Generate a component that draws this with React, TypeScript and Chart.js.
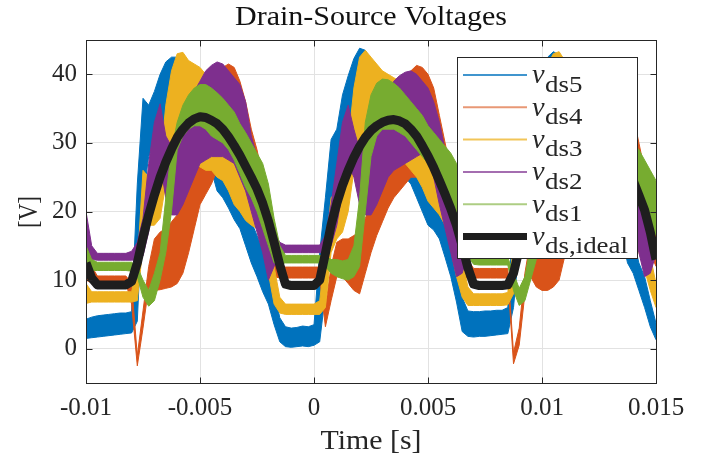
import { useEffect, useRef } from 'react';
import { Chart, registerables } from 'chart.js';

Chart.register(...registerables);

// ---- data -------------------------------------------------------------
const time = [
  -0.01, -0.00975, -0.0095, -0.00925, -0.009, -0.00875, -0.0085, -0.00825, -0.008, -0.00775,
  -0.0075, -0.00725, -0.007, -0.00675, -0.0065, -0.00625, -0.006, -0.00575, -0.0055, -0.00525,
  -0.005, -0.00475, -0.0045, -0.00425, -0.004, -0.00375, -0.0035, -0.00325, -0.003, -0.00275,
  -0.0025, -0.00225, -0.002, -0.00175, -0.0015, -0.00125, -0.001, -0.00075, -0.0005, -0.00025,
  0, 0.00025, 0.0005, 0.00075, 0.001, 0.00125, 0.0015, 0.00175, 0.002, 0.00225,
  0.0025, 0.00275, 0.003, 0.00325, 0.0035, 0.00375, 0.004, 0.00425, 0.0045, 0.00475,
  0.005, 0.00525, 0.0055, 0.00575, 0.006, 0.00625, 0.0065, 0.00675, 0.007, 0.00725,
  0.0075, 0.00775, 0.008, 0.00825, 0.0085, 0.00875, 0.009, 0.00925, 0.0095, 0.00975,
  0.01, 0.01025, 0.0105, 0.01075, 0.011, 0.01125, 0.0115, 0.01175, 0.012, 0.01225,
  0.0125, 0.01275, 0.013, 0.01325, 0.0135, 0.01375, 0.014, 0.01425, 0.0145, 0.01475,
  0.015,
];

// v_ds5 (blue) noise band
const vds5Lo = [
  1.5, 1.6, 1.7, 1.8, 1.9, 2.0, 2.1, 2.2, 2.3, 4,
  22, 28, 30, 31, 32, 32, 32, 32, 31, 30,
  29, 28, 26, 23, 22, 20.5, 18.8, 17.5, 15, 12.5,
  10.5, 8.3, 6.5, 3.5, 1.0, 0.3, 0.2, 0.3, 0.4, 0.3,
  0.5, 1.0, 8, 20, 24, 28, 30, 32, 33, 33,
  32, 31, 30, 29, 28, 27, 25, 24, 22, 20,
  18, 17.3, 16, 13.3, 10.5, 6.8, 2.5, 1.8, 1.7, 1.8,
  1.8, 1.9, 2.0, 2.1, 2.2, 6, 15, 22, 26, 29,
  31, 32, 33, 33, 32, 31, 30, 29, 27, 25.5,
  24, 22, 20, 18, 16.5, 12.5, 11, 8.5, 6, 3.2,
  1.3,
];
const vds5Hi = [
  4.3, 4.6, 4.8, 4.9, 5.0, 5.1, 5.2, 5.2, 5.4, 24,
  36.5, 35.5, 37.5, 40, 41.8, 42.5, 42.5, 42, 41, 40,
  39, 37, 35, 33, 30, 28, 26, 24, 21, 18.5,
  16.5, 14.5, 12, 8.5, 4.5, 3.2, 3.0, 3.1, 3.3, 3.2,
  3.5, 14, 22, 30.5, 32, 37, 39.8, 42.3, 43.8, 43.5,
  42, 40.5, 39, 37.5, 36, 34, 33, 32, 31, 29,
  27, 25, 22, 19, 16, 12, 7.5, 5.5, 5.4, 5.4,
  5.5, 5.5, 5.6, 5.6, 6, 20, 26, 31, 34, 38,
  40.5, 42.5, 43.3, 42.8, 41, 40, 38.5, 37, 35, 33.5,
  32, 30, 28, 26, 23, 19, 16, 12.5, 10.5, 7,
  3.7,
];

// v_ds4 (orange)
const vds4Lo = [
  10, 9.6, 9.6, 9.6, 9.6, 9.6, 9.6, 9.6, 6.5, -2.5,
  3, 9, 8.5, 8.6, 8.8, 9, 9.5, 11, 14, 17.5,
  21, 22.5, 24, 26, 27, 27.5, 27, 26, 24.5, 22,
  19, 15.5, 12, 10.5, 10.3, 10.3, 10.3, 10.3, 10.3, 10.3,
  10.3, 10.3, 3.2, 7, 10.5, 10.5, 9.5, 8.5, 8, 11,
  14, 16.5, 18.5, 20.5, 22, 23, 24, 25, 25, 25,
  24, 22.5, 21, 18, 15, 12, 10.5, 10.3, 10.3, 10.3,
  10.3, 10.3, 10.3, 10.3, 10.3, -2.2, 0.5, 8, 10.5, 9,
  8.5, 8.5, 9, 10, 13.5, 16.5, 18.5, 20.5, 22, 23,
  24, 25, 25, 25, 24, 22.5, 21, 19, 17, 14,
  12,
];
const vds4Hi = [
  18, 12, 10.6, 10.6, 10.6, 10.6, 10.6, 10.6, 9.5, -1,
  5.5, 12, 16, 17, 17.5, 18.5, 19.5, 22, 24, 26,
  30, 33, 36, 39, 41, 41.5, 41, 39, 36, 32,
  29, 25, 21, 16, 12.5, 11.9, 11.9, 11.9, 11.9, 11.9,
  11.9, 11.9, 6, 12, 15.5, 16, 16, 16.5, 17, 19,
  21, 23, 25, 28, 31, 34, 38, 40.5, 41.3, 41,
  40, 38, 34, 30, 26, 22, 17, 13, 11.7, 11.7,
  11.7, 11.7, 11.7, 11.7, 11.7, -0.6, 3, 11, 16, 17.5,
  18, 18, 19, 20, 21, 23, 25, 28, 31, 34,
  37, 40, 41, 41, 40, 38, 34, 30, 26, 22,
  18,
];

// v_ds3 (yellow)
const vds3Lo = [
  6.6, 6.8, 6.8, 6.8, 6.8, 6.8, 6.8, 6.8, 6.8, 7,
  15, 18, 18, 19, 24, 27, 28, 28, 27, 27,
  26.5, 26, 26, 25, 24.5, 23, 21, 20, 18.7, 18,
  17.5, 15.5, 11, 6.5, 5.2, 5.0, 5.0, 5.0, 5.0, 5.0,
  5.0, 5.0, 6, 14, 16, 17, 20, 26, 29, 30,
  30, 29.5, 29, 28.5, 28, 27.5, 27, 26, 25, 23.5,
  21.5, 20.5, 19.5, 18, 14.5, 10.5, 7.5, 6.3, 6.3, 6.3,
  6.3, 6.3, 6.3, 6.3, 6.4, 8, 15, 16, 18, 22,
  27, 29, 30, 30, 30, 29.5, 29, 28, 27, 26,
  25, 24, 22, 20.5, 19, 18, 16, 14, 11.5, 8.5,
  6,
];
const vds3Hi = [
  9.5, 8.3, 8.3, 8.3, 8.3, 8.3, 8.3, 8.3, 8.3, 12,
  26, 25, 24, 27, 35.5, 40.5, 43, 43.2, 42, 41.5,
  41, 40, 38, 36, 34, 32, 30, 28, 26, 24,
  22, 20, 17, 12, 7.5, 6.5, 6.5, 6.5, 6.5, 6.5,
  6.5, 7, 14, 22, 23, 24, 30, 38, 42.5, 43.5,
  42.5, 41.5, 40.5, 40, 39.5, 39, 38, 36, 34, 32,
  30, 28, 26, 24, 21, 17, 13, 9, 8, 8,
  8, 8, 8, 8, 8.2, 15, 22, 23, 25, 32,
  38, 41.5, 43, 43.3, 42, 41, 40, 39, 38, 36,
  34, 32, 30, 28, 26, 24, 22, 20, 17, 13.5,
  9.5,
];

// v_ds2 (purple)
const vds2Lo = [
  13, 13, 12.9, 12.9, 12.9, 12.9, 12.9, 12.9, 12.9, 13,
  13.5, 17, 23, 27, 22, 19.5, 19.5, 21, 23, 25,
  27, 27.5, 28, 28, 28, 27.5, 27, 25, 23, 20,
  17, 14, 10, 12, 13.7, 14, 14, 14, 14, 14,
  14, 14, 14, 15, 18, 23, 27, 25, 21, 19.5,
  19.5, 21, 23, 25, 26, 26.5, 27, 27.5, 28, 28.5,
  28, 25, 21, 17.5, 14, 10.5, 11, 13.8, 14, 14,
  14, 14, 14, 14, 14, 14.1, 15.2, 18, 23.5, 27,
  25, 21.5, 19.5, 19.5, 21, 23, 25, 26, 26.5, 27,
  27.5, 28, 28.5, 28, 25, 21, 17.5, 14, 10.5, 11,
  13.8,
];
const vds2Hi = [
  20, 15, 13.9, 13.9, 13.9, 13.9, 13.9, 13.9, 14.2, 15.5,
  19, 27, 33, 35.7, 31, 29.5, 31.5, 33.5, 35.5, 37.5,
  39, 40.5, 41.3, 41.8, 41.5, 40.5, 39.5, 38.5, 36, 31,
  28, 24, 20, 17, 15.5, 15.1, 15.1, 15.1, 15.1, 15.1,
  15.1, 15.1, 16.5, 21, 27, 33, 35.5, 32, 29, 29.5,
  31, 33, 35.5, 37.5, 39, 39.8, 40.3, 40.5, 40, 39,
  38, 36, 33, 29, 24, 19, 16, 15.3, 15.2, 15.2,
  15.2, 15.2, 15.2, 15.2, 15.2, 16.5, 21, 27.5, 33, 35.5,
  32, 29, 29.5, 31, 33, 35.5, 37.5, 39, 39.8, 40.3,
  40.5, 40, 39, 38, 36, 33, 29, 24, 19, 16,
  15.3,
];

// v_ds1 (green)
const vds1Lo = [
  11.5, 11.4, 11.4, 11.4, 11.4, 11.4, 11.4, 11.4, 11.3, 10.5,
  7.5, 6.2, 7, 10, 14, 20, 29, 31, 32, 32.5,
  32.5, 32, 31, 30.5, 30, 29, 27.5, 25.5, 23.5, 22,
  20, 17.5, 15, 12.5, 12.4, 12.5, 12.5, 12.5, 12.5, 12.5,
  12.5, 12.5, 12, 11, 10.5, 10.2, 10, 10.5, 12, 20,
  28, 31, 32, 32, 32, 31.5, 31, 30, 29, 28,
  27, 25.5, 24, 22.5, 21, 19, 16.5, 13.5, 12.3, 12.2,
  12.2, 12.2, 12.2, 12.2, 12.2, 8.5, 6.3, 7, 10, 13,
  18, 22, 25, 27, 29, 30.5, 31.5, 31.5, 31, 30.5,
  30, 29, 27.5, 26, 24.5, 23, 22, 21, 19.5, 18,
  16.5,
];
const vds1Hi = [
  15, 13, 12.6, 12.6, 12.6, 12.6, 12.6, 12.6, 12.6, 12,
  10, 8.5, 11, 14, 22, 29, 33, 35.5, 37, 38,
  38.5, 38.5, 38, 37.3, 36.5, 35.5, 34.5, 32.8, 31.5, 30,
  28.5, 27, 24, 19, 15, 13.6, 13.6, 13.6, 13.6, 13.6,
  13.6, 13.6, 13.5, 13, 13, 12.8, 13, 15, 22, 33,
  37, 38.7, 39.3, 39.2, 38.7, 38, 37, 36, 35, 34,
  32.5, 31.5, 30.5, 29.5, 28.5, 27, 25, 22, 16, 13.3,
  13.3, 13.3, 13.3, 13.3, 13.3, 11, 8.8, 10.5, 15, 20,
  28, 32, 34, 35.5, 37, 38, 38.5, 38.5, 38, 37.3,
  36.5, 35.5, 34.5, 33, 32, 31, 30, 29, 27.5, 26,
  24.5,
];

// v_ds,ideal (black)
const vdsIdeal = [
  12.5, 10.3, 9.3, 9.3, 9.3, 9.3, 9.3, 9.3, 9.8, 12.5,
  16.2, 19.5, 22.4, 25, 27.2, 29.1, 30.8, 32, 32.9, 33.5,
  33.8, 33.7, 33.3, 32.8, 32, 30.9, 29.6, 28.2, 26.6, 25,
  23.3, 21.2, 18.6, 15.5, 12.2, 9.4, 9.2, 9.2, 9.2, 9.2,
  9.2, 10, 13.9, 18, 21.2, 23.8, 26, 27.9, 29.5, 30.8,
  31.8, 32.5, 33, 33.3, 33.4, 33.2, 32.8, 32, 31, 29.6,
  28.1, 26.4, 24.5, 22.5, 20.4, 18, 15, 11.8, 9.4, 9.2,
  9.2, 9.2, 9.2, 9.2, 9.3, 11, 14.5, 18.3, 21.4, 24,
  26.1, 28, 29.6, 30.9, 31.9, 32.6, 33.1, 33.3, 33.4, 33.1,
  32.6, 31.8, 30.8, 29.5, 28, 26.4, 24.5, 22.4, 20.2, 17,
  13,
];

const xTickValues = [-0.01, -0.005, 0, 0.005, 0.01, 0.015];
const xTickLabels = ['-0.01', '-0.005', '0', '0.005', '0.01', '0.015'];
const yTickValues = [0, 10, 20, 30, 40];
const yTickLabels = ['0', '10', '20', '30', '40'];
const legendSubs = ['ds5', 'ds4', 'ds3', 'ds2', 'ds1', 'ds,ideal'];
const titleText = 'Drain-Source Voltages';
const xLabelText = 'Time [s]';
const yLabelText = '[V]';

// ---- styles -----------------------------------------------------------
const BLUE = '#0072BD';
const ORANGE = '#D95319';
const YELLOW = '#EDB120';
const PURPLE = '#7E2F8E';
const GREEN = '#77AC30';
const BLACK = '#1e1e1e';
const TEXT = '#262626';
const GRID = '#e2e2e2';
const FONT = '"Liberation Serif", "Times New Roman", serif';

const legendColors = [
  'rgba(0,114,189,0.75)',
  'rgba(217,83,25,0.6)',
  'rgba(237,177,32,0.75)',
  'rgba(126,47,142,0.7)',
  'rgba(119,172,48,0.6)',
  BLACK,
];

function drawFit(
  ctx: CanvasRenderingContext2D,
  text: string,
  x: number,
  y: number,
  font: string,
  width: number | null,
  align: CanvasTextAlign,
  sx?: number,
) {
  ctx.save();
  ctx.font = font;
  const w = ctx.measureText(text).width;
  const s = width ? width / w : sx || 1;
  ctx.translate(x, y);
  ctx.scale(s, 1);
  ctx.textAlign = align;
  ctx.textBaseline = 'alphabetic';
  ctx.fillText(text, 0, 0);
  ctx.restore();
}

const overlay = {
  id: 'overlay',
  afterDraw(chart: any) {
    const { ctx, chartArea: a } = chart;
    const xs = chart.scales.x;
    const ys = chart.scales.y;
    ctx.save();
    // axes box
    ctx.strokeStyle = TEXT;
    ctx.lineWidth = 1;
    const L = Math.round(a.left) + 0.5;
    const R = Math.round(a.right) + 0.5;
    const T = Math.round(a.top) + 0.5;
    const B = Math.round(a.bottom) + 0.5;
    ctx.strokeRect(L, T, R - L, B - T);
    // inward ticks
    ctx.beginPath();
    for (const v of xTickValues) {
      const px = Math.round(xs.getPixelForValue(v)) + 0.5;
      ctx.moveTo(px, B);
      ctx.lineTo(px, B - 6);
      ctx.moveTo(px, T);
      ctx.lineTo(px, T + 6);
    }
    for (const v of yTickValues) {
      const py = Math.round(ys.getPixelForValue(v)) + 0.5;
      ctx.moveTo(L, py);
      ctx.lineTo(L + 6, py);
      ctx.moveTo(R, py);
      ctx.lineTo(R - 6, py);
    }
    ctx.stroke();

    // legend
    const LX = 457, LY = 57, LW = 180, LH = 201;
    ctx.fillStyle = '#ffffff';
    ctx.fillRect(LX, LY, LW, LH);
    ctx.strokeStyle = TEXT;
    ctx.lineWidth = 1;
    ctx.strokeRect(LX + 0.5, LY + 0.5, LW, LH);
    legendSubs.forEach((sub, i) => {
      const y = 75 + i * 32.3;
      ctx.strokeStyle = legendColors[i];
      ctx.lineWidth = i === 5 ? 7 : 2;
      ctx.beginPath();
      ctx.moveTo(463, y);
      ctx.lineTo(527, y);
      ctx.stroke();
      ctx.fillStyle = TEXT;
      drawFit(ctx, 'v', 532, y + 8.3, 'italic 27px ' + FONT, null, 'left', 1.05);
      drawFit(ctx, sub, 545, y + 16.7, '23px ' + FONT, null, 'left', 1.17);
    });

    // title and axis labels
    ctx.fillStyle = '#111111';
    drawFit(ctx, titleText, 371, 25, '27px ' + FONT, 272, 'center');
    ctx.fillStyle = TEXT;
    drawFit(ctx, xLabelText, 371, 449, '27px ' + FONT, 101, 'center');
    ctx.save();
    ctx.translate(37, 212);
    ctx.rotate(-Math.PI / 2);
    drawFit(ctx, yLabelText, 0, 0, '27px ' + FONT, 32, 'center');
    ctx.restore();
    ctx.restore();
  },
};

export default function App() {
  const ref = useRef<HTMLCanvasElement>(null);
  useEffect(() => {
    document.body.style.margin = '0';
    const canvas = ref.current;
    if (!canvas) return;
    const pts = (arr: number[]) => time.map((t, i) => ({ x: t, y: arr[i] }));
    const bands = [
      { lo: vds1Lo, hi: vds1Hi, color: GREEN },
      { lo: vds2Lo, hi: vds2Hi, color: PURPLE },
      { lo: vds3Lo, hi: vds3Hi, color: YELLOW },
      { lo: vds4Lo, hi: vds4Hi, color: ORANGE },
      { lo: vds5Lo, hi: vds5Hi, color: BLUE },
    ];
    const datasets: any[] = [
      {
        data: pts(vdsIdeal),
        borderColor: BLACK,
        borderWidth: 9,
        pointRadius: 0,
        fill: false,
        clip: 0,
        tension: 0,
        borderJoinStyle: 'round',
      },
    ];
    bands.forEach((b) => {
      datasets.push({
        data: pts(b.lo),
        borderColor: b.color,
        borderWidth: 1,
        pointRadius: 0,
        fill: false,
        clip: 0,
        tension: 0,
      });
      datasets.push({
        data: pts(b.hi),
        borderColor: b.color,
        backgroundColor: b.color,
        borderWidth: 1,
        pointRadius: 0,
        fill: '-1',
        clip: 0,
        tension: 0,
      });
    });

    const chart = new Chart(canvas, {
      type: 'line',
      data: { datasets },
      options: {
        animation: false,
        responsive: false,
        devicePixelRatio: 1,
        events: [],
        layout: { padding: { left: 0, right: 57, top: 40, bottom: 0 } },
        plugins: {
          legend: { display: false },
          title: { display: false },
          tooltip: { enabled: false },
        },
        scales: {
          x: {
            type: 'linear',
            min: -0.01,
            max: 0.015,
            afterBuildTicks: (s: any) => {
              s.ticks = xTickValues.map((v) => ({ value: v }));
            },
            afterFit: (s: any) => {
              s.height = 77;
            },
            ticks: {
              autoSkip: false,
              maxRotation: 0,
              minRotation: 0,
              padding: 10,
              color: TEXT,
              font: { family: FONT, size: 25 },
              callback: (_v: any, i: number) => xTickLabels[i],
            },
            grid: { color: GRID, drawTicks: false, lineWidth: 1 },
            border: { display: false },
          },
          y: {
            type: 'linear',
            min: -5,
            max: 45,
            afterBuildTicks: (s: any) => {
              s.ticks = yTickValues.map((v) => ({ value: v }));
            },
            afterFit: (s: any) => {
              s.width = 86;
            },
            ticks: {
              autoSkip: false,
              padding: 9,
              color: TEXT,
              font: { family: FONT, size: 25 },
              callback: (_v: any, i: number) => yTickLabels[i],
            },
            grid: { color: GRID, drawTicks: false, lineWidth: 1 },
            border: { display: false },
          },
        },
      } as any,
      plugins: [overlay],
    });
    return () => chart.destroy();
  }, []);
  return (
    <canvas
      ref={ref}
      width={713}
      height={460}
      style={{ display: 'block', width: 713, height: 460 }}
    />
  );
}
